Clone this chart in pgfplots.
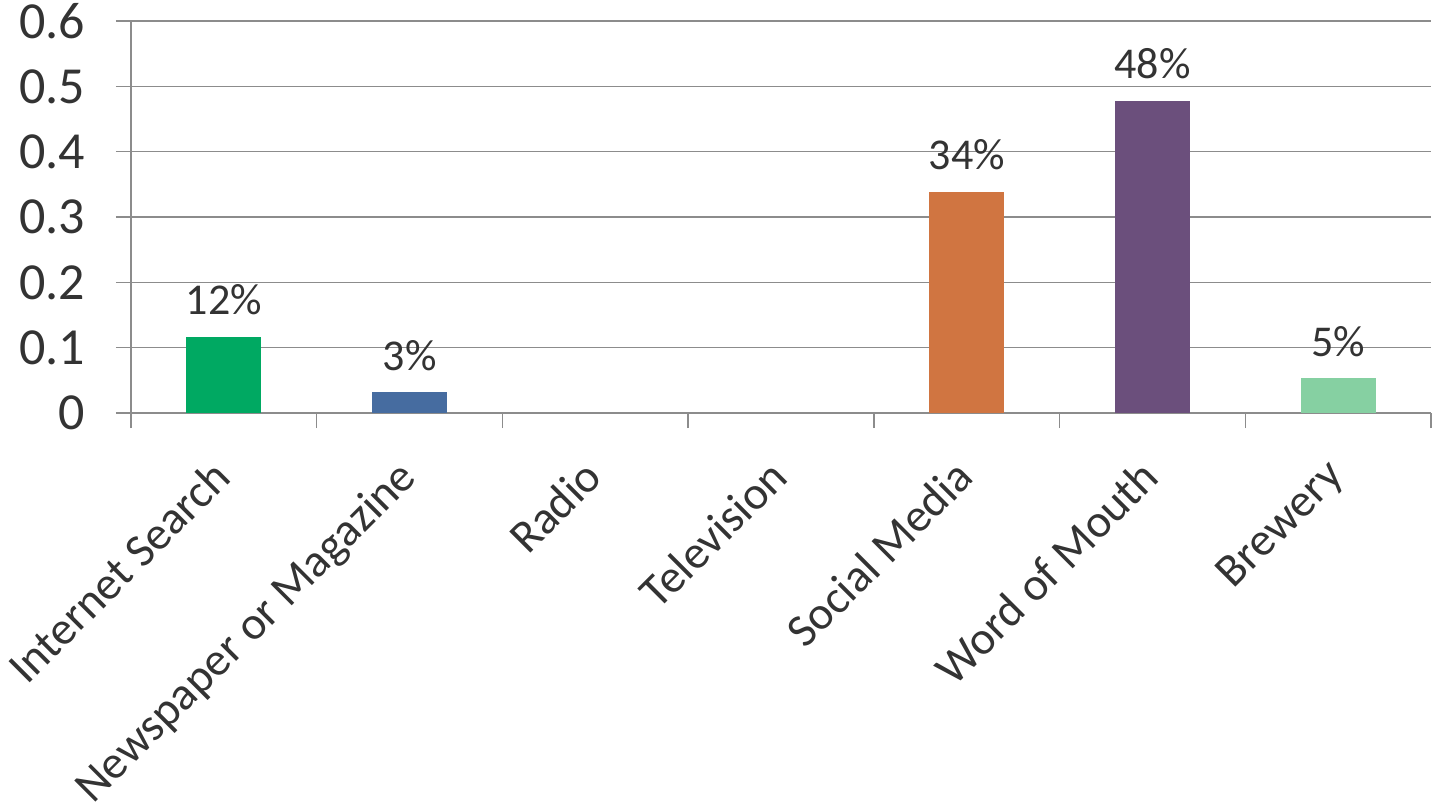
\documentclass[border=0pt]{standalone}
\usepackage{fontspec}
\setmainfont{Carlito}
\usepackage{pgfplots}
\pgfplotsset{compat=1.18}
\definecolor{cA}{HTML}{00A962}
\definecolor{cB}{HTML}{466CA0}
\definecolor{cC}{HTML}{D07541}
\definecolor{cD}{HTML}{6B4F7C}
\definecolor{cE}{HTML}{86D0A2}
\definecolor{txt}{HTML}{333333}
\definecolor{gridc}{HTML}{8C8C8C}
\begin{document}
\begin{tikzpicture}
\begin{axis}[
  scale only axis,
  width=650pt, height=196pt,
  xmin=-0.5, xmax=6.5, ymin=0, ymax=0.6,
  axis x line=bottom, axis y line=left,
  axis line style={draw=gridc, line width=0.75pt, -},
  ytick={0,0.1,0.2,0.3,0.4,0.5,0.6},
  yticklabels={0,0.1,0.2,0.3,0.4,0.5,0.6},
  xtick={0,1,2,3,4,5,6},
  xticklabels={Internet Search, Newspaper or Magazine, Radio, Television, Social Media, Word of Mouth, Brewery},
  minor xtick={-0.5,0.5,1.5,2.5,3.5,4.5,5.5,6.5},
  tick align=outside,
  major tick length=7.5pt,
  minor tick length=7.5pt,
  major x tick style={draw=none},
  major y tick style={draw=gridc, line width=0.75pt},
  minor x tick style={draw=gridc, line width=0.75pt},
  ymajorgrids,
  grid style={draw=gridc, line width=0.75pt},
  x tick label style={xshift=-7pt, yshift=-9.5pt, rotate=45, anchor=north east, font=\fontsize{23.3}{28}\selectfont, text=txt},
  y tick label style={font=\fontsize{26}{30}\selectfont, text=txt, xshift=-12pt},
  ybar, bar width=37.5pt, bar shift=0pt,
  nodes near coords,
  point meta=explicit symbolic,
  every node near coord/.append style={font=\fontsize{22}{26}\selectfont, text=txt, anchor=base, yshift=11pt},
  clip=false,
]
\addplot[fill=cA, draw=none] coordinates {(0,0.117) [12\%]};
\addplot[fill=cB, draw=none] coordinates {(1,0.032) [3\%]};
\addplot[fill=cC, draw=none] coordinates {(4,0.339) [34\%]};
\addplot[fill=cD, draw=none] coordinates {(5,0.478) [48\%]};
\addplot[fill=cE, draw=none] coordinates {(6,0.053) [5\%]};
\coordinate (ll) at (rel axis cs:0,0);
\coordinate (ur) at (rel axis cs:1,1);
\end{axis}
\pgfresetboundingbox
\path ([xshift=-65.5pt,yshift=-199pt]ll) rectangle ([xshift=1pt,yshift=10.5pt]ur);
\end{tikzpicture}
\end{document}
